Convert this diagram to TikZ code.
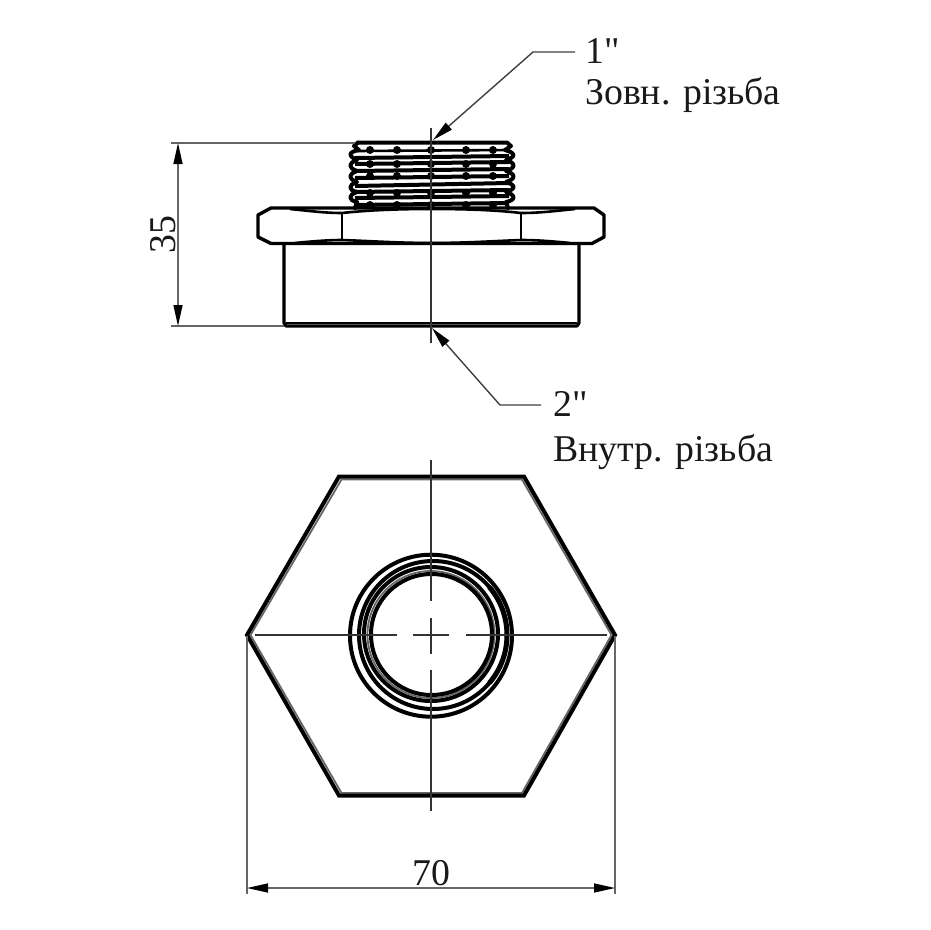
\documentclass[tikz,border=0pt]{standalone}
\usepackage{fontspec}
\setmainfont{Liberation Serif}
\newfontfamily\plainserif{Liberation Serif}
\usetikzlibrary{arrows.meta}
\tikzset{
  outline/.style={line width=4pt,black,line join=round,line cap=round},
  medium/.style={line width=2.6pt,black,line join=round},
  thin grey/.style={line width=1.8pt,black!60},
  axis/.style={line width=1.5pt,black!80},
  dim/.style={line width=1.4pt,black!60},
  darrow/.style={{Triangle[length=21pt,width=9pt,black]}-{Triangle[length=21pt,width=9pt,black]}},
  larrow/.style={-{Triangle[length=21pt,width=9pt,black]}},
  label/.style={font=\plainserif\fontsize{37.8}{38}\selectfont,inner sep=0pt,anchor=base west,text=black!90},
  threadband/.style={line width=4pt,black},
  threaddot/.style={black,radius=4pt},
}
\begin{document}
\begin{tikzpicture}[x=1pt,y=-1pt]
\useasboundingbox[fill=white] (0,0) rectangle (930,930);
% named points
\coordinate (dimT) at (178,143);
\coordinate (dimB) at (178,326);
\coordinate (wL) at (247,888);
\coordinate (wR) at (615,888);
\coordinate (tipA) at (433,140);
\coordinate (kneeA) at (533,52);
\coordinate (endA) at (575,52);
\coordinate (tipB) at (432,328);
\coordinate (kneeB) at (500,405);
\coordinate (endB) at (541,405);
% ---------- side view: thread
\draw[threadband,line width=2.6pt] (357,151) -- (509,150);
\foreach \y/\s in {158/2,164/2,171/2,178/2,186/3,192/2,198/2,205/2}{
  \draw[threadband] (355,\y) -- (509,\y-\s);
}
\draw[outline] (358,142.5) -- (507,142.5) -- (511,146) -- (505,150)
  .. controls (516,153) and (516,157) .. (506,160)
  .. controls (516,163) and (516,168) .. (506,171)
  .. controls (516,174) and (516,179) .. (506,182)
  .. controls (516,185) and (516,189) .. (506,192)
  .. controls (516,195) and (516,200) .. (506,202)
  -- (508,208);
\draw[outline] (358,142.5) -- (354,146) -- (359,150)
  .. controls (348,152) and (348,156) .. (357,160)
  .. controls (348,163) and (348,168) .. (357,171)
  .. controls (348,174) and (348,179) .. (357,182)
  .. controls (348,185) and (348,190) .. (357,192)
  .. controls (348,195) and (348,200) .. (357,202)
  -- (355,208);
\foreach \x in {370,397,431,466,493}{
  \foreach \y in {150,164,176,193,205}{
    \fill[threaddot] (\x,\y) circle[];
  }
}
% ---------- side view: hexagon and body
\draw[outline,line width=3.4pt] (271,208) -- (594,208) -- (604,215) -- (604,237) -- (592,243.5)
  -- (271,243.5) -- (258,237) -- (258,215) -- cycle;
\draw[medium] (342,213) -- (342,240);
\draw[medium] (521,213) -- (521,240);
\draw[medium] (290,209) .. controls (310,211) and (325,213) .. (342,213)
  .. controls (370,210) and (400,209) .. (431,209)
  .. controls (465,209) and (495,210) .. (521,213)
  .. controls (540,213) and (555,211) .. (575,209);
\draw[medium] (295,243) .. controls (315,241) and (330,240) .. (342,240)
  .. controls (370,241) and (400,243) .. (431,243)
  .. controls (465,243) and (495,241) .. (521,240)
  .. controls (535,240) and (550,241) .. (570,243);
\draw[outline,line width=3.2pt] (284,244) -- (284,323) -- (286,326) -- (577,326) -- (579,323) -- (579,244);
\draw[medium,line width=1.6pt] (286,323) -- (577,323);
% centre line of side view
\draw[axis] (431,128) -- (431,343);
% dimension 35
\draw[dim] (171,143) -- (355,143);
\draw[dim] (171,326) -- (284,326);
\draw[dim,darrow] (dimT) -- (dimB);
\node[label,rotate=90] (h35) at (175.5,254) {35};
% leaders
\draw[dim,black!75,larrow] (endA) -- (kneeA) -- (tipA);
\node[label] (t1) at (585,63) {1"};
\node[label] (t1b) at (585,104) {Зовн. різьба};
\draw[dim,black!75,larrow] (endB) -- (kneeB) -- (tipB);
\node[label] (t2) at (553,416) {2"};
\node[label] (t2b) at (553,461) {Внутр. різьба};
% ---------- top view
\draw[thin grey,line join=miter] (341.5,479.5) -- (522,479.5) -- (611.5,635) -- (522,793) -- (341.5,793) -- (250.5,635) -- cycle;
\draw[outline,line join=miter] (339,476.5) -- (524,476.5) -- (615,635) -- (524,795.5) -- (339,795.5) -- (247,635) -- cycle;
\draw[outline] (431,635.7) circle[radius=81];
\draw[outline] (433,635) circle[radius=74];
\draw[outline,line width=5pt] (433,635) ++(-40:74) arc[start angle=-40,end angle=40,radius=74];
\draw[outline] (431,634) circle[radius=67];
\draw[thin grey] (431,634.5) circle[radius=63.5];
\draw[outline] (431.5,634.5) circle[radius=60.5];
\draw[axis] (255,635) -- (397,635);
\draw[axis] (413,635) -- (449,635);
\draw[axis] (466,635) -- (607,635);
\draw[axis] (431,460) -- (431,601);
\draw[axis] (431,618) -- (431,654);
\draw[axis] (431,670) -- (431,811);
% dimension 70
\draw[dim] (247,636) -- (247,894);
\draw[dim] (615,636) -- (615,894);
\draw[dim,darrow] (wL) -- (wR);
\node[label,anchor=base] (w70) at (431,885) {70};
\end{tikzpicture}
\end{document}
